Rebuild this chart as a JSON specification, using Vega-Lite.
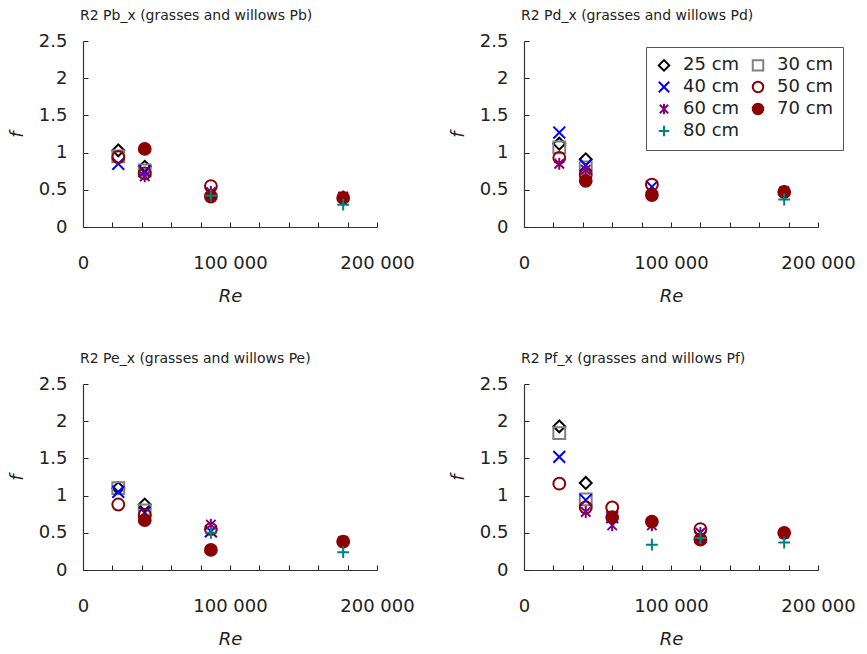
{
  "$schema": "https://vega.github.io/schema/vega-lite/v6.json",
  "padding": {"left": 8, "top": 9, "right": 5, "bottom": 5},
  "background": "white",
  "datasets": {
    "d": [
      {"p": "Pb", "re": 24000, "f": 1.03, "s": "25 cm"},
      {"p": "Pb", "re": 42000, "f": 0.81, "s": "25 cm"},
      {"p": "Pb", "re": 24000, "f": 0.95, "s": "30 cm"},
      {"p": "Pb", "re": 42000, "f": 0.76, "s": "30 cm"},
      {"p": "Pb", "re": 24000, "f": 0.85, "s": "40 cm"},
      {"p": "Pb", "re": 42000, "f": 0.75, "s": "40 cm"},
      {"p": "Pb", "re": 24000, "f": 0.94, "s": "50 cm"},
      {"p": "Pb", "re": 42000, "f": 0.72, "s": "50 cm"},
      {"p": "Pb", "re": 87000, "f": 0.55, "s": "50 cm"},
      {"p": "Pb", "re": 42000, "f": 0.68, "s": "60 cm"},
      {"p": "Pb", "re": 87000, "f": 0.47, "s": "60 cm"},
      {"p": "Pb", "re": 177000, "f": 0.41, "s": "60 cm"},
      {"p": "Pb", "re": 42000, "f": 1.05, "s": "70 cm"},
      {"p": "Pb", "re": 87000, "f": 0.41, "s": "70 cm"},
      {"p": "Pb", "re": 177000, "f": 0.39, "s": "70 cm"},
      {"p": "Pb", "re": 87000, "f": 0.42, "s": "80 cm"},
      {"p": "Pb", "re": 177000, "f": 0.3, "s": "80 cm"},

      {"p": "Pd", "re": 24000, "f": 1.12, "s": "25 cm"},
      {"p": "Pd", "re": 42000, "f": 0.91, "s": "25 cm"},
      {"p": "Pd", "re": 24000, "f": 1.07, "s": "30 cm"},
      {"p": "Pd", "re": 42000, "f": 0.8, "s": "30 cm"},
      {"p": "Pd", "re": 24000, "f": 1.27, "s": "40 cm"},
      {"p": "Pd", "re": 42000, "f": 0.83, "s": "40 cm"},
      {"p": "Pd", "re": 87000, "f": 0.54, "s": "40 cm"},
      {"p": "Pd", "re": 24000, "f": 0.93, "s": "50 cm"},
      {"p": "Pd", "re": 42000, "f": 0.7, "s": "50 cm"},
      {"p": "Pd", "re": 87000, "f": 0.57, "s": "50 cm"},
      {"p": "Pd", "re": 24000, "f": 0.85, "s": "60 cm"},
      {"p": "Pd", "re": 42000, "f": 0.77, "s": "60 cm"},
      {"p": "Pd", "re": 177000, "f": 0.48, "s": "60 cm"},
      {"p": "Pd", "re": 42000, "f": 0.62, "s": "70 cm"},
      {"p": "Pd", "re": 87000, "f": 0.43, "s": "70 cm"},
      {"p": "Pd", "re": 177000, "f": 0.47, "s": "70 cm"},
      {"p": "Pd", "re": 177000, "f": 0.37, "s": "80 cm"},

      {"p": "Pe", "re": 24000, "f": 1.1, "s": "25 cm"},
      {"p": "Pe", "re": 42000, "f": 0.88, "s": "25 cm"},
      {"p": "Pe", "re": 24000, "f": 1.1, "s": "30 cm"},
      {"p": "Pe", "re": 42000, "f": 0.8, "s": "30 cm"},
      {"p": "Pe", "re": 24000, "f": 1.05, "s": "40 cm"},
      {"p": "Pe", "re": 42000, "f": 0.77, "s": "40 cm"},
      {"p": "Pe", "re": 87000, "f": 0.52, "s": "40 cm"},
      {"p": "Pe", "re": 24000, "f": 0.88, "s": "50 cm"},
      {"p": "Pe", "re": 42000, "f": 0.74, "s": "50 cm"},
      {"p": "Pe", "re": 87000, "f": 0.55, "s": "50 cm"},
      {"p": "Pe", "re": 87000, "f": 0.61, "s": "60 cm"},
      {"p": "Pe", "re": 177000, "f": 0.39, "s": "60 cm"},
      {"p": "Pe", "re": 42000, "f": 0.67, "s": "70 cm"},
      {"p": "Pe", "re": 87000, "f": 0.27, "s": "70 cm"},
      {"p": "Pe", "re": 177000, "f": 0.38, "s": "70 cm"},
      {"p": "Pe", "re": 87000, "f": 0.5, "s": "80 cm"},
      {"p": "Pe", "re": 177000, "f": 0.24, "s": "80 cm"},

      {"p": "Pf", "re": 24000, "f": 1.93, "s": "25 cm"},
      {"p": "Pf", "re": 42000, "f": 1.17, "s": "25 cm"},
      {"p": "Pf", "re": 24000, "f": 1.84, "s": "30 cm"},
      {"p": "Pf", "re": 42000, "f": 0.95, "s": "30 cm"},
      {"p": "Pf", "re": 24000, "f": 1.52, "s": "40 cm"},
      {"p": "Pf", "re": 42000, "f": 0.94, "s": "40 cm"},
      {"p": "Pf", "re": 60000, "f": 0.71, "s": "40 cm"},
      {"p": "Pf", "re": 120000, "f": 0.44, "s": "40 cm"},
      {"p": "Pf", "re": 24000, "f": 1.16, "s": "50 cm"},
      {"p": "Pf", "re": 42000, "f": 0.84, "s": "50 cm"},
      {"p": "Pf", "re": 60000, "f": 0.84, "s": "50 cm"},
      {"p": "Pf", "re": 120000, "f": 0.55, "s": "50 cm"},
      {"p": "Pf", "re": 42000, "f": 0.78, "s": "60 cm"},
      {"p": "Pf", "re": 60000, "f": 0.6, "s": "60 cm"},
      {"p": "Pf", "re": 87000, "f": 0.6, "s": "60 cm"},
      {"p": "Pf", "re": 120000, "f": 0.5, "s": "60 cm"},
      {"p": "Pf", "re": 177000, "f": 0.49, "s": "60 cm"},
      {"p": "Pf", "re": 60000, "f": 0.71, "s": "70 cm"},
      {"p": "Pf", "re": 87000, "f": 0.65, "s": "70 cm"},
      {"p": "Pf", "re": 120000, "f": 0.41, "s": "70 cm"},
      {"p": "Pf", "re": 177000, "f": 0.5, "s": "70 cm"},
      {"p": "Pf", "re": 87000, "f": 0.34, "s": "80 cm"},
      {"p": "Pf", "re": 120000, "f": 0.43, "s": "80 cm"},
      {"p": "Pf", "re": 177000, "f": 0.37, "s": "80 cm"}
    ]
  },
  "columns": 2,
  "spacing": {"column": 147, "row": 157},
  "bounds": "flush",
  "resolve": {
    "scale": {"shape": "independent", "stroke": "independent", "fill": "independent"},
    "legend": {"shape": "independent", "stroke": "independent", "fill": "independent"}
  },
  "concat": [
    {
      "width": 294, "height": 186,
      "title": {"text": "R2 Pb_x (grasses and willows Pb)"},
      "data": {"name": "d"},
      "transform": [{"filter": "datum.p == 'Pb'"}],
      "mark": {"type": "point", "strokeWidth": 2, "size": 140, "opacity": 1},
      "encoding": {
        "x": {"field": "re", "type": "quantitative", "title": "Re", "scale": {"domain": [0, 200000]},
          "axis": {"values": [0, 20000, 40000, 60000, 80000, 100000, 120000, 140000, 160000, 180000, 200000], "labelExpr": "datum.value % 100000 == 0 ? replace(format(datum.value, ','), ',', ' ') : ''", "tickSize": -5, "labelPadding": 32, "titlePadding": 15, "labelOverlap": false, "labelFlush": false}},
        "y": {"field": "f", "type": "quantitative", "title": "f", "scale": {"domain": [0, 2.5]},
          "axis": {"values": [0, 0.5, 1, 1.5, 2, 2.5], "format": "~g", "tickSize": -5, "labelPadding": 21, "titlePadding": 12, "labelOverlap": false}},
        "shape": {"field": "s", "type": "nominal", "legend": null,
          "scale": {"domain": ["25 cm", "30 cm", "40 cm", "50 cm", "60 cm", "70 cm", "80 cm"],
            "range": ["diamond", "square", "M-1,-1L1,1M-1,1L1,-1", "circle", "M0,-1L0,1M-0.8,-0.8L0.8,0.8M-0.8,0.8L0.8,-0.8", "circle", "M-1,0L1,0M0,-1L0,1"]}},
        "stroke": {"field": "s", "type": "nominal", "legend": null,
          "scale": {"domain": ["25 cm", "30 cm", "40 cm", "50 cm", "60 cm", "70 cm", "80 cm"],
            "range": ["#000000", "#808080", "#0000ff", "#8b0000", "#800080", "#8b0000", "#008080"]}},
        "fill": {"field": "s", "type": "nominal", "legend": null,
          "scale": {"domain": ["25 cm", "30 cm", "40 cm", "50 cm", "60 cm", "70 cm", "80 cm"],
            "range": ["transparent", "transparent", "transparent", "transparent", "transparent", "#8b0000", "transparent"]}}
      }
    },
    {
      "width": 294, "height": 186,
      "title": {"text": "R2 Pd_x (grasses and willows Pd)"},
      "data": {"name": "d"},
      "transform": [{"filter": "datum.p == 'Pd'"}],
      "mark": {"type": "point", "strokeWidth": 2, "size": 140, "opacity": 1},
      "encoding": {
        "x": {"field": "re", "type": "quantitative", "title": "Re", "scale": {"domain": [0, 200000]},
          "axis": {"values": [0, 20000, 40000, 60000, 80000, 100000, 120000, 140000, 160000, 180000, 200000], "labelExpr": "datum.value % 100000 == 0 ? replace(format(datum.value, ','), ',', ' ') : ''", "tickSize": -5, "labelPadding": 32, "titlePadding": 15, "labelOverlap": false, "labelFlush": false}},
        "y": {"field": "f", "type": "quantitative", "title": "f", "scale": {"domain": [0, 2.5]},
          "axis": {"values": [0, 0.5, 1, 1.5, 2, 2.5], "format": "~g", "tickSize": -5, "labelPadding": 21, "titlePadding": 12, "labelOverlap": false}},
        "shape": {"field": "s", "type": "nominal",
          "legend": {"orient": "none", "legendX": 122, "legendY": 6, "columns": 2, "direction": "horizontal", "title": null, "strokeColor": "#555555", "fillColor": "white", "padding": 9, "labelFont": "DejaVu Sans", "labelFontSize": 18, "labelColor": "#222222", "symbolStrokeWidth": 2, "symbolSize": 110, "rowPadding": 2, "columnPadding": 8, "labelOffset": 10},
          "scale": {"domain": ["25 cm", "30 cm", "40 cm", "50 cm", "60 cm", "70 cm", "80 cm"],
            "range": ["diamond", "square", "M-1,-1L1,1M-1,1L1,-1", "circle", "M0,-1L0,1M-0.8,-0.8L0.8,0.8M-0.8,0.8L0.8,-0.8", "circle", "M-1,0L1,0M0,-1L0,1"]}},
        "stroke": {"field": "s", "type": "nominal",
          "legend": {"orient": "none", "legendX": 122, "legendY": 6, "columns": 2, "direction": "horizontal", "title": null, "strokeColor": "#555555", "fillColor": "white", "padding": 9, "labelFont": "DejaVu Sans", "labelFontSize": 18, "labelColor": "#222222", "symbolStrokeWidth": 2, "symbolSize": 110, "rowPadding": 2, "columnPadding": 8, "labelOffset": 10},
          "scale": {"domain": ["25 cm", "30 cm", "40 cm", "50 cm", "60 cm", "70 cm", "80 cm"],
            "range": ["#000000", "#808080", "#0000ff", "#8b0000", "#800080", "#8b0000", "#008080"]}},
        "fill": {"field": "s", "type": "nominal",
          "legend": {"orient": "none", "legendX": 122, "legendY": 6, "columns": 2, "direction": "horizontal", "title": null, "strokeColor": "#555555", "fillColor": "white", "padding": 9, "labelFont": "DejaVu Sans", "labelFontSize": 18, "labelColor": "#222222", "symbolStrokeWidth": 2, "symbolSize": 110, "rowPadding": 2, "columnPadding": 8, "labelOffset": 10},
          "scale": {"domain": ["25 cm", "30 cm", "40 cm", "50 cm", "60 cm", "70 cm", "80 cm"],
            "range": ["transparent", "transparent", "transparent", "transparent", "transparent", "#8b0000", "transparent"]}}
      }
    },
    {
      "width": 294, "height": 186,
      "title": {"text": "R2 Pe_x (grasses and willows Pe)"},
      "data": {"name": "d"},
      "transform": [{"filter": "datum.p == 'Pe'"}],
      "mark": {"type": "point", "strokeWidth": 2, "size": 140, "opacity": 1},
      "encoding": {
        "x": {"field": "re", "type": "quantitative", "title": "Re", "scale": {"domain": [0, 200000]},
          "axis": {"values": [0, 20000, 40000, 60000, 80000, 100000, 120000, 140000, 160000, 180000, 200000], "labelExpr": "datum.value % 100000 == 0 ? replace(format(datum.value, ','), ',', ' ') : ''", "tickSize": -5, "labelPadding": 32, "titlePadding": 15, "labelOverlap": false, "labelFlush": false}},
        "y": {"field": "f", "type": "quantitative", "title": "f", "scale": {"domain": [0, 2.5]},
          "axis": {"values": [0, 0.5, 1, 1.5, 2, 2.5], "format": "~g", "tickSize": -5, "labelPadding": 21, "titlePadding": 12, "labelOverlap": false}},
        "shape": {"field": "s", "type": "nominal", "legend": null,
          "scale": {"domain": ["25 cm", "30 cm", "40 cm", "50 cm", "60 cm", "70 cm", "80 cm"],
            "range": ["diamond", "square", "M-1,-1L1,1M-1,1L1,-1", "circle", "M0,-1L0,1M-0.8,-0.8L0.8,0.8M-0.8,0.8L0.8,-0.8", "circle", "M-1,0L1,0M0,-1L0,1"]}},
        "stroke": {"field": "s", "type": "nominal", "legend": null,
          "scale": {"domain": ["25 cm", "30 cm", "40 cm", "50 cm", "60 cm", "70 cm", "80 cm"],
            "range": ["#000000", "#808080", "#0000ff", "#8b0000", "#800080", "#8b0000", "#008080"]}},
        "fill": {"field": "s", "type": "nominal", "legend": null,
          "scale": {"domain": ["25 cm", "30 cm", "40 cm", "50 cm", "60 cm", "70 cm", "80 cm"],
            "range": ["transparent", "transparent", "transparent", "transparent", "transparent", "#8b0000", "transparent"]}}
      }
    },
    {
      "width": 294, "height": 186,
      "title": {"text": "R2 Pf_x (grasses and willows Pf)"},
      "data": {"name": "d"},
      "transform": [{"filter": "datum.p == 'Pf'"}],
      "mark": {"type": "point", "strokeWidth": 2, "size": 140, "opacity": 1},
      "encoding": {
        "x": {"field": "re", "type": "quantitative", "title": "Re", "scale": {"domain": [0, 200000]},
          "axis": {"values": [0, 20000, 40000, 60000, 80000, 100000, 120000, 140000, 160000, 180000, 200000], "labelExpr": "datum.value % 100000 == 0 ? replace(format(datum.value, ','), ',', ' ') : ''", "tickSize": -5, "labelPadding": 32, "titlePadding": 15, "labelOverlap": false, "labelFlush": false}},
        "y": {"field": "f", "type": "quantitative", "title": "f", "scale": {"domain": [0, 2.5]},
          "axis": {"values": [0, 0.5, 1, 1.5, 2, 2.5], "format": "~g", "tickSize": -5, "labelPadding": 21, "titlePadding": 12, "labelOverlap": false}},
        "shape": {"field": "s", "type": "nominal", "legend": null,
          "scale": {"domain": ["25 cm", "30 cm", "40 cm", "50 cm", "60 cm", "70 cm", "80 cm"],
            "range": ["diamond", "square", "M-1,-1L1,1M-1,1L1,-1", "circle", "M0,-1L0,1M-0.8,-0.8L0.8,0.8M-0.8,0.8L0.8,-0.8", "circle", "M-1,0L1,0M0,-1L0,1"]}},
        "stroke": {"field": "s", "type": "nominal", "legend": null,
          "scale": {"domain": ["25 cm", "30 cm", "40 cm", "50 cm", "60 cm", "70 cm", "80 cm"],
            "range": ["#000000", "#808080", "#0000ff", "#8b0000", "#800080", "#8b0000", "#008080"]}},
        "fill": {"field": "s", "type": "nominal", "legend": null,
          "scale": {"domain": ["25 cm", "30 cm", "40 cm", "50 cm", "60 cm", "70 cm", "80 cm"],
            "range": ["transparent", "transparent", "transparent", "transparent", "transparent", "#8b0000", "transparent"]}}
      }
    }
  ],
  "config": {
    "view": {"stroke": null},
    "font": "DejaVu Sans",
    "axis": {"grid": false, "domainColor": "#333333", "domainWidth": 1.2, "tickColor": "#222222", "tickWidth": 1, "labelFont": "DejaVu Sans", "labelFontSize": 18, "labelColor": "#222222", "titleFont": "DejaVu Sans", "titleFontSize": 18, "titleFontStyle": "italic", "titleFontWeight": "normal", "titleColor": "#222222"},
    "title": {"anchor": "start", "frame": "group", "dx": -3, "font": "DejaVu Sans", "fontSize": 14, "fontWeight": "normal", "color": "#222222", "offset": 9}
  }
}
